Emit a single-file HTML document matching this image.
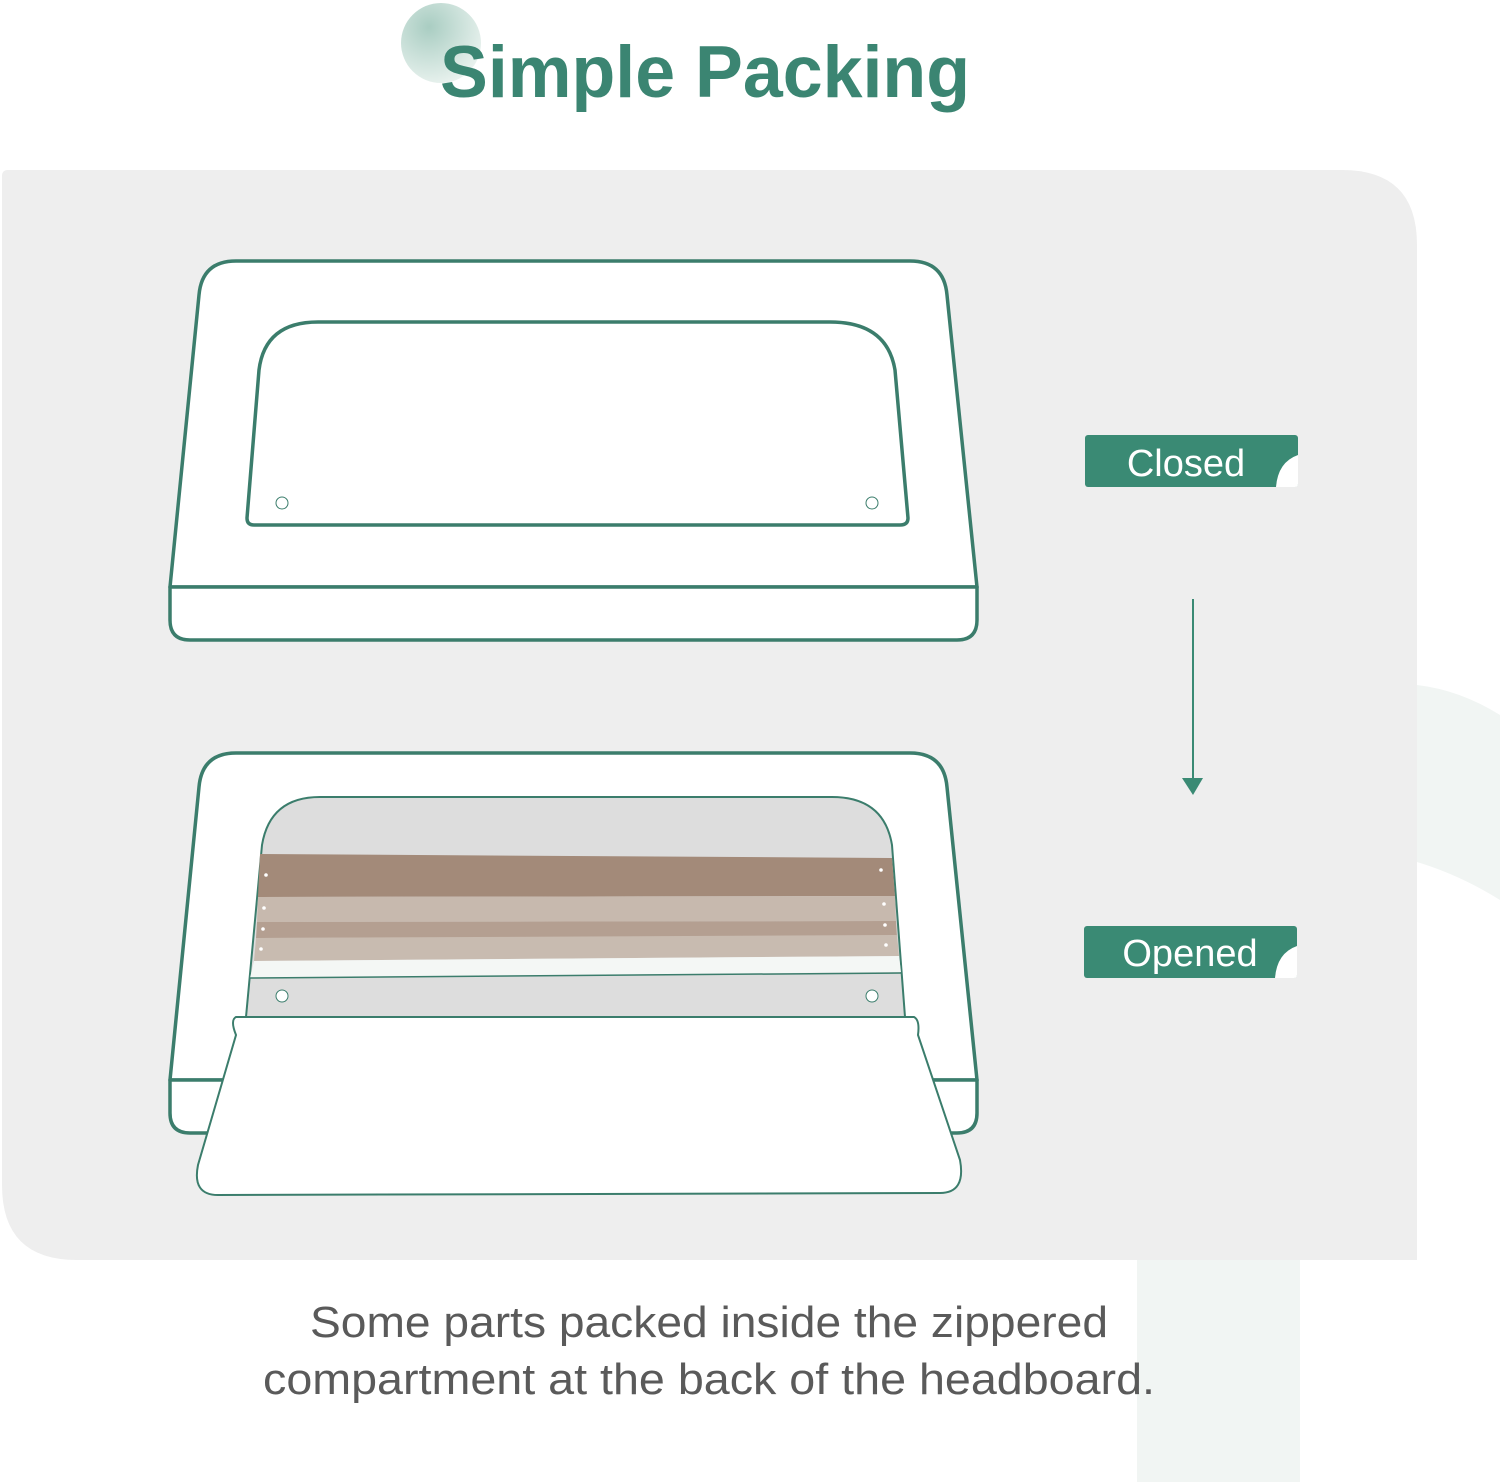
<!DOCTYPE html>
<html><head><meta charset="utf-8"><style>
html,body{margin:0;padding:0;background:#fff;}
svg{display:block;}
</style></head><body>
<svg width="1500" height="1482" viewBox="0 0 1500 1482" xmlns="http://www.w3.org/2000/svg">
<defs>
<radialGradient id="cg" cx="0.35" cy="0.3" r="0.8">
<stop offset="0" stop-color="#a9cdc2"/><stop offset="1" stop-color="#eef5f2"/>
</radialGradient>
</defs>
<rect width="1500" height="1482" fill="#fff"/>
<rect x="1137" y="1255" width="163" height="227" fill="#f1f5f3"/>
<path d="M1417 685 Q1460 690 1500 715 L1500 900 Q1460 875 1417 862 Z" fill="#f1f5f3"/>
<path d="M2 176 Q2 170 8 170 L1342 170 Q1417 170 1417 245 L1417 1260 L77 1260 Q2 1260 2 1185 Z" fill="#eeeeee"/>
<circle cx="441" cy="43" r="40" fill="url(#cg)"/>
<text x="440" y="97" font-family="Liberation Sans, sans-serif" font-weight="bold" font-size="73" fill="#3b8572" textLength="530" lengthAdjust="spacingAndGlyphs">Simple Packing</text>

<g fill="#fff" stroke="#3b7d6c" stroke-width="3.5" stroke-linejoin="round">
<path d="M170 587 L199 295 Q202 261 236 261 L910 261 Q944 261 947 295 L977 587 Z"/>
<path d="M170 587 L977 587 L977 620 Q977 640 957 640 L190 640 Q170 640 170 620 Z"/>
<path d="M247 518 L259 370 Q265 322 318 322 L830 322 Q887 322 895 370 L908 518 Q908 525 900 525 L254 525 Q247 525 247 518 Z"/>
<path d="M170 1080 L199 787 Q202 753 236 753 L910 753 Q944 753 947 787 L977 1080 Z"/>
<path d="M170 1080 L977 1080 L977 1113 Q977 1133 957 1133 L190 1133 Q170 1133 170 1113 Z"/>
</g>
<path d="M246 1017 L262 845 Q270 797 320 797 L832 797 Q884 797 892 845 L905 1017 Z" fill="#dddddd" stroke="#3b7d6c" stroke-width="2"/>
<path d="M260 854 L892 858 L895 896 L258 897 Z" fill="#a38a79"/>
<path d="M258 897 L895 896 L896 921 L257 922 Z" fill="#c7b9ae"/>
<path d="M257 922 L896 921 L897 937 L256 938 Z" fill="#b49f91"/>
<path d="M256 938 L897 935 L899 956 L254 961 Z" fill="#c8bbb0"/>
<path d="M254 961 L899 956 L901 972 L250 978 Z" fill="#f4f7f5"/>
<line x1="250" y1="978" x2="901" y2="973" stroke="#3b7d6c" stroke-width="1.5"/>
<g fill="#fff">
<circle cx="266" cy="875" r="1.8"/><circle cx="881" cy="870" r="1.8"/>
<circle cx="264" cy="908" r="1.8"/><circle cx="884" cy="904" r="1.8"/>
<circle cx="263" cy="929" r="1.8"/><circle cx="885" cy="925" r="1.8"/>
<circle cx="261" cy="949" r="1.8"/><circle cx="886" cy="945" r="1.8"/>
</g>
<g fill="#fff" stroke="#3b7d6c" stroke-width="1">
<circle cx="282" cy="996" r="6"/><circle cx="872" cy="996" r="6"/>
<circle cx="282" cy="503" r="6"/><circle cx="872" cy="503" r="6"/>
</g>
<path d="M236 1017 L914 1017 Q920 1020 918 1035 L960 1160 Q966 1193 940 1193 L218 1195 Q192 1195 198 1165 L236 1035 Q230 1020 236 1017 Z" fill="#fff" stroke="#3b7d6c" stroke-width="2"/>

<rect x="1085" y="435" width="213" height="52" rx="3" fill="#3a8a74"/>
<path d="M1276 487 Q1278 462 1298 455 L1298 484 Q1298 487 1295 487 Z" fill="#fff"/>
<text x="1186" y="476" text-anchor="middle" font-family="Liberation Sans, sans-serif" font-size="38" fill="#fff">Closed</text>
<rect x="1084" y="926" width="213" height="52" rx="3" fill="#3a8a74"/>
<path d="M1275 978 Q1277 953 1297 946 L1297 975 Q1297 978 1294 978 Z" fill="#fff"/>
<text x="1190" y="966" text-anchor="middle" font-family="Liberation Sans, sans-serif" font-size="38" fill="#fff">Opened</text>
<line x1="1193" y1="599" x2="1193" y2="780" stroke="#3a8a74" stroke-width="2"/>
<path d="M1182 778 L1203 778 L1193 795 Z" fill="#3a8a74"/>

<text x="310" y="1337" font-family="Liberation Sans, sans-serif" font-size="44" fill="#5a5a5a" textLength="798" lengthAdjust="spacingAndGlyphs">Some parts packed inside the zippered</text>
<text x="263" y="1394" font-family="Liberation Sans, sans-serif" font-size="44" fill="#5a5a5a" textLength="892" lengthAdjust="spacingAndGlyphs">compartment at the back of the headboard.</text>
</svg>
</body></html>
